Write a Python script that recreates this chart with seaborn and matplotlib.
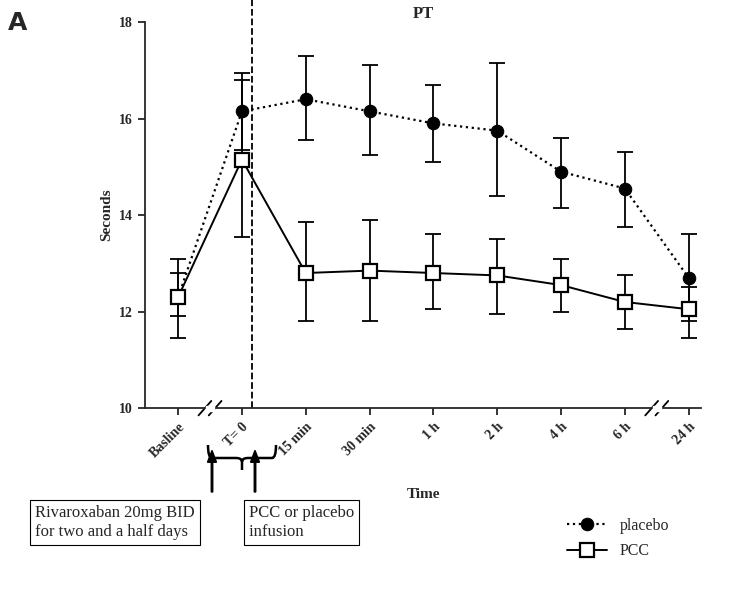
import matplotlib
matplotlib.use("Agg")
import matplotlib.pyplot as plt
import seaborn as sns
import numpy as np
import pandas as pd
from matplotlib.patches import Rectangle, FancyArrow, PathPatch
from matplotlib.path import Path

times = ["Basline", "T= 0", "15 min", "30 min", "1 h", "2 h", "4 h", "6 h", "24 h"]
placebo = [12.3, 16.15, 16.4, 16.15, 15.9, 15.75, 14.9, 14.55, 12.7]
placebo_hi = [13.1, 16.95, 17.3, 17.1, 16.7, 17.15, 15.6, 15.3, 13.6]
placebo_lo = [11.45, 15.35, 15.55, 15.25, 15.1, 14.4, 14.15, 13.75, 11.8]
pcc = [12.3, 15.15, 12.8, 12.85, 12.8, 12.75, 12.55, 12.2, 12.05]
pcc_hi = [12.8, 16.8, 13.85, 13.9, 13.6, 13.5, 13.1, 12.75, 12.5]
pcc_lo = [11.9, 13.55, 11.8, 11.8, 12.05, 11.95, 12.0, 11.65, 11.45]

sns.set_style("ticks")
plt.rcParams['font.family'] = ['Liberation Serif', 'DejaVu Serif']

fig = plt.figure(figsize=(7.47, 5.95), dpi=100)
ax = fig.add_axes([0.194, 0.314, 0.745, 0.649])
x = np.arange(len(times))
df = pd.DataFrame({"x": np.concatenate([x, x]), "y": placebo + pcc,
                   "g": ["placebo"] * 9 + ["PCC"] * 9})

p, ph, pl = map(np.array, (placebo, placebo_hi, placebo_lo))
c, ch, cl = map(np.array, (pcc, pcc_hi, pcc_lo))
ax.errorbar(x, p, yerr=[p - pl, ph - p], fmt='none', ecolor='black', capsize=6, lw=1.3, capthick=1.3)
ax.errorbar(x, c, yerr=[c - cl, ch - c], fmt='none', ecolor='black', capsize=6, lw=1.3, capthick=1.3)
sns.lineplot(data=df[df.g == "placebo"], x="x", y="y", ax=ax, color='black', ls=':', lw=1.6,
             marker='o', markersize=9, markeredgecolor='black', label='placebo')
sns.lineplot(data=df[df.g == "PCC"], x="x", y="y", ax=ax, color='black', ls='-', lw=1.4,
             marker='s', markersize=10, markerfacecolor='white', markeredgecolor='black',
             markeredgewidth=1.6, label='PCC')

ax.set_xlim(-0.52, 8.2)
ax.set_ylim(10, 18)
ax.set_yticks([10, 12, 14, 16, 18])
ax.set_xticks(x)
ax.set_xticklabels(times, rotation=45, ha='right', rotation_mode='anchor', fontweight='bold', fontsize=10)
for t in ax.get_yticklabels():
    t.set_fontweight('bold')
ax.tick_params(labelsize=10, width=1.3, length=5)
for s in ['left', 'bottom']:
    ax.spines[s].set_linewidth(1.3)
sns.despine(ax=ax)
ax.set_xlabel("Time", fontweight='bold', fontsize=11, labelpad=20)
ax.set_ylabel("Seconds", fontweight='bold', fontsize=11)
ax.set_title("PT", fontweight='bold', fontsize=12, pad=-2)
ax.axvline(1.16, color='black', ls='--', lw=1.3, ymax=1.06, clip_on=False)

for xb in (0.5, 7.5):
    for d in (-0.08, 0.08):
        ax.plot([xb + d - 0.1, xb + d + 0.1], [9.85, 10.15], color='black', lw=1.3, clip_on=False)
    ax.add_patch(Rectangle((xb - 0.06, 9.95), 0.12, 0.1, color='white', clip_on=False, zorder=3))

fig.text(0.01, 0.95, "A", fontsize=18, fontweight='bold', family='DejaVu Sans')

# curly brace (figure pixel coords converted)
W, H = 747, 595
def P(px, py):
    return (px / W, 1 - py / H)
verts = [P(208, 445), P(208, 458), P(212, 458), P(236, 458),
         P(242, 458), P(242, 462), P(242, 470),
         P(242, 462), P(242, 458), P(248, 458),
         P(272, 458), P(276, 458), P(276, 445)]
codes = [Path.MOVETO, Path.CURVE3, Path.CURVE3, Path.LINETO,
         Path.CURVE3, Path.CURVE3, Path.LINETO,
         Path.MOVETO, Path.CURVE3, Path.CURVE3,
         Path.LINETO, Path.CURVE3, Path.CURVE3]
fig.patches.append(PathPatch(Path(verts, codes), fc='none', ec='black', lw=1.8,
                             transform=fig.transFigure))
for ax_x in (212, 255):
    x0, y0 = P(ax_x, 492)
    fig.patches.append(FancyArrow(x0, y0, 0, 0.05, width=0.002, head_width=0.012,
                       head_length=0.02, color='black', transform=fig.transFigure))
fig.text(0.047, 0.122, "Rivaroxaban 20mg BID\nfor two and a half days", fontsize=12, va='center',
         bbox=dict(boxstyle='square,pad=0.3', fc='white', ec='black', lw=0.8))
fig.text(0.333, 0.122, "PCC or placebo\ninfusion        ", fontsize=12, va='center',
         bbox=dict(boxstyle='square,pad=0.3', fc='white', ec='black', lw=0.8))
ax.legend(loc='center left', bbox_to_anchor=(0.74, 0.095), bbox_transform=fig.transFigure,
          frameon=False, fontsize=11.5, handlelength=2.5, labelspacing=0.6)
fig.savefig("out.png", dpi=100)
